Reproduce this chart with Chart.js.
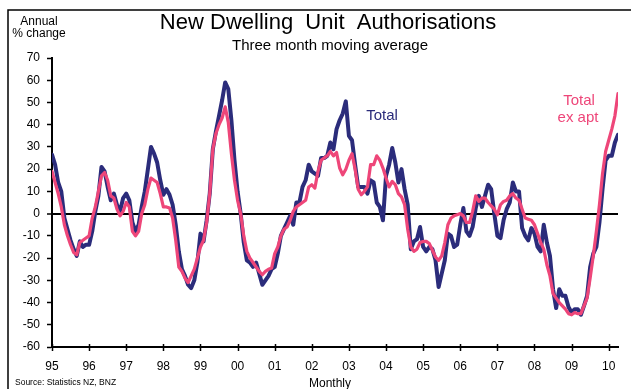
<!DOCTYPE html>
<html>
<head>
<meta charset="utf-8">
<title>New Dwelling Unit Authorisations</title>
<script src="https://cdn.jsdelivr.net/npm/chart.js@4.4.0/dist/chart.umd.min.js"></script>
<style>
  html, body { margin: 0; padding: 0; background: #fff; }
  canvas { display: block; }
</style>
</head>
<body>
<canvas id="authChart" width="631" height="389"></canvas>
<script>
// annual % change, three month moving average, monthly Jan 1995 - Apr 2010
var yearLabels = ['95', '96', '97', '98', '99', '00', '01', '02', '03', '04', '05', '06', '07', '08', '09', '10'];

var total = [
    26.5, 22, 14, 10, -2, -7, -12, -16, -19, -12.5, -15, -14,      // 1995
    -14, -8, 1, 8, 21, 19, 12, 6, 9, 4, 1, 7,                      // 1996
    9, 6, -4, -8, -5, 3, 10, 20, 30, 27, 23, 15,                   // 1997
    8.5, 11, 8.5, 4, -5, -17, -25, -28, -32, -33.5, -30, -22,      // 1998
    -9, -12.5, -3, 9, 29, 37, 44, 51, 59, 56, 42, 24,              // 1999
    10, 0, -13, -21, -22, -24, -22, -27, -32, -30, -28, -25,       // 2000
    -24, -18, -10, -7, -4, -1, -5, 5, 5, 12, 15, 22,               // 2001
    19, 18, 17, 25, 25, 26, 32, 29, 38, 42, 45, 50.5,              // 2002
    35, 33, 22, 12, 12, 12, 9, 15, 14, 5, 3, -3,                   // 2003
    17, 22, 29.5, 23, 14, 20, 11, 4, -16, -12.5, -11.5, -6,        // 2004
    -15, -17, -15, -16, -21, -33, -27, -21, -9, -10, -15, -14,     // 2005
    -5, 2.5, -8, -10, -6, 2.5, 8, 3, 8, 13, 11, 0,                 // 2006
    -10, -11, -3, 2, 5, 14, 10, 10, -6.5, -10, -12, -6.5,          // 2007
    -9, -15, -17, -5, -13, -19, -34, -42.5, -34, -37, -37, -42,    // 2008
    -44.5, -43, -43, -45.5, -41.5, -37, -24, -18, -15, -4, 11, 24, // 2009
    26, 26, 32, 35.5                                               // 2010
];

var totalExApt = [
    19, 14, 9, 3, -5, -10, -14, -17.5, -18.5, -13, -12, -11,       // 1995
    -10, -2, 3, 10, 17, 18.5, 15, 8, 7, 2, -1, 1,                  // 1996
    5, 3, -8, -10, -8, 0, 4, 11, 16, 15, 14, 9,                    // 1997
    3, 3, 2.5, -2, -12, -24, -26, -29, -31, -28, -25, -20,         // 1998
    -15, -12, -4, 9, 29, 36, 40, 43, 48, 41, 27, 15,               // 1999
    6, 0, -10, -17, -20, -22, -24, -26, -27.5, -26, -25, -24.5,    // 2000
    -18, -15, -10, -7, -6, -3, 1, 3, 4, 5, 6, 12,                  // 2001
    13, 11.5, 19, 24, 25, 26, 28, 26, 27.5, 20.5, 17.5, 20,        // 2002
    24, 27, 20, 11, 8.5, 10, 12, 22, 22, 26, 24, 20.5,             // 2003
    16, 12, 14.5, 13, 9, 7.5, 4, -7, -15, -17, -16, -13,           // 2004
    -12.5, -12.5, -13.5, -16.5, -19.5, -21, -19, -13, -5, -2, -1, -0.5, // 2005
    0, -1, -4, -4, 1, 8, 5.5, 7, 7, 5, 3.5, 2,                     // 2006
    -0.5, 4, 5.5, 6, 8, 9, 7, 6, 2, -2, -2.5, -3,                  // 2007
    -5, -9, -13, -16, -23, -28, -36, -38, -40, -41.5, -43, -45,    // 2008
    -45.5, -44.5, -45, -45, -41.5, -38, -29, -19, -8, 4, 18, 28,   // 2009
    33, 38, 44, 54                                                 // 2010
];

var NAVY = '#2b2c7b';
var PINK = '#ee4679';
var FONT = '"Liberation Sans", Arial, sans-serif';

function toPoints(values) {
    return values.map(function (v, i) { return {x: i, y: v}; });
}

// titles, series labels, source line and the outer frame
var chartText = {
    id: 'chartText',
    afterDraw: function (chart) {
        var ctx = chart.ctx;
        var xs = chart.scales.x;
        var bottom = chart.chartArea.bottom;
        ctx.save();

        ctx.strokeStyle = '#000';
        ctx.lineWidth = 1.5;
        ctx.beginPath();
        ctx.moveTo(8, 389);
        ctx.lineTo(8, 10);
        ctx.lineTo(631, 10);
        ctx.stroke();

        // x tick marks cross the axis line
        ctx.lineWidth = 1.5;
        xs.ticks.forEach(function (t) {
            var px = Math.round(xs.getPixelForValue(t.value)) + 0.5;
            ctx.beginPath();
            ctx.moveTo(px, bottom - 3);
            ctx.lineTo(px, bottom + 4);
            ctx.stroke();
        });

        ctx.textAlign = 'center';
        ctx.textBaseline = 'middle';
        ctx.fillStyle = '#000';
        ctx.font = '12px ' + FONT;
        ctx.fillText('Annual', 39, 22);
        ctx.fillText('% change', 39, 34);

        ctx.font = '22px ' + FONT;
        ctx.fillText('New Dwelling  Unit  Authorisations', 328, 23);
        ctx.font = '15px ' + FONT;
        ctx.fillText('Three month moving average', 330, 46);

        ctx.font = '12px ' + FONT;
        ctx.fillText('Monthly', 330, 384);

        ctx.textAlign = 'left';
        ctx.font = '8.5px ' + FONT;
        ctx.fillText('Source: Statistics NZ, BNZ', 15, 383);

        ctx.font = '15px ' + FONT;
        ctx.textAlign = 'center';
        ctx.fillStyle = NAVY;
        ctx.fillText('Total', 382, 116);
        ctx.fillStyle = PINK;
        ctx.fillText('Total', 579, 101);
        ctx.fillText('ex apt', 578, 118);

        ctx.restore();
    }
};

var chart = new Chart(document.getElementById('authChart'), {
    type: 'line',
    data: {
        datasets: [{
            label: 'Total',
            data: toPoints(total),
            borderColor: NAVY,
            borderWidth: 4,
            order: 1
        }, {
            label: 'Total ex apt',
            data: toPoints(totalExApt),
            borderColor: PINK,
            borderWidth: 3.2,
            order: 0
        }]
    },
    options: {
        responsive: false,
        animation: false,
        devicePixelRatio: 1,
        layout: {padding: {top: 58, right: 13, left: 0, bottom: 0}},
        elements: {
            point: {radius: 0},
            line: {tension: 0, fill: false, borderJoinStyle: 'round', borderCapStyle: 'round'}
        },
        plugins: {
            legend: {display: false},
            tooltip: {enabled: false}
        },
        scales: {
            x: {
                type: 'linear',
                min: 0,
                max: total.length - 1,
                offset: false,
                afterFit: function (s) { s.height = 42; },
                afterBuildTicks: function (s) {
                    s.ticks = yearLabels.map(function (l, k) { return {value: k * 12}; });
                },
                grid: {display: false, drawTicks: false},
                border: {display: true, color: '#000', width: 2},
                ticks: {
                    autoSkip: false,
                    maxRotation: 0,
                    padding: 12,
                    color: '#000',
                    font: {family: FONT, size: 12},
                    callback: function (v) { return yearLabels[Math.round(v / 12)]; }
                }
            },
            y: {
                min: -60,
                max: 70,
                afterFit: function (s) { s.width = 52; },
                grid: {
                    drawOnChartArea: true,
                    color: function (c) { return c.tick && c.tick.value === 0 ? '#000' : 'rgba(0,0,0,0)'; },
                    lineWidth: function (c) { return c.tick && c.tick.value === 0 ? 2 : 1; },
                    tickColor: '#000',
                    tickWidth: 1.5,
                    tickLength: 5
                },
                border: {display: true, color: '#000', width: 2},
                ticks: {
                    stepSize: 10,
                    padding: 7,
                    color: '#000',
                    font: {family: FONT, size: 12}
                }
            }
        }
    },
    plugins: [chartText]
});
</script>
</body>
</html>
